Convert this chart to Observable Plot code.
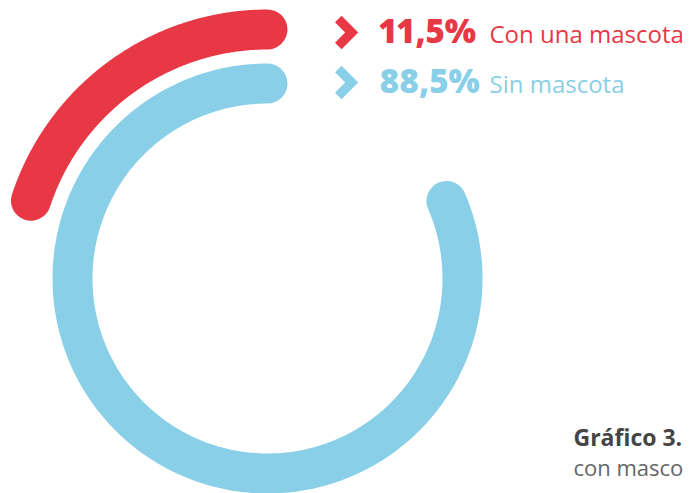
<!DOCTYPE html>
<html><head><meta charset="utf-8">
<script src="https://cdn.jsdelivr.net/npm/d3@7"></script>
<script src="https://cdn.jsdelivr.net/npm/@observablehq/plot@0.6"></script>
<style>body{margin:0;background:#fff;overflow:hidden}</style>
</head><body><div id="chart"></div>
<script>
// ---- data ----
const categories = ["Con una mascota", "Sin mascota"];
const values = [11.5, 88.5];
const valueLabels = ["11,5%", "88,5%"];
const captionTitle = ["Gráfico 3."];
const captionText = ["con masco"];

// ---- styles / layout ----
const colors = ["#e83845", "#89cfe8"];
const radii = [249, 195];          // ring radius for each category (outer → inner)
const rowBaseline = [236, 186];    // legend row baselines (same units as the rings)
// angular sweep (degrees, counter-clockwise from 12 o'clock) as drawn in the graphic
const sweep = d3.scaleLinear().domain([0, 100]).range([38.7, 326.5]);

const rows = categories.map((c, i) => ({category: c, value: values[i], label: valueLabels[i], r: radii[i], yb: rowBaseline[i]}));
const N = 240;
const arcPoints = rows.flatMap(d => d3.range(N + 1).map(k => {
  const a = sweep(d.value) * (k / N) * Math.PI / 180;
  return {category: d.category, x: -d.r * Math.sin(a), y: d.r * Math.cos(a)};
}));

// chevron ">" symbol (outline of a thick polyline with butt ends, mitred tip)
const chevron = {
  draw(ctx, size) {
    const s = Math.sqrt(size / Math.PI) / 16;
    const pts = [[-3.82, -16.18], [12.36, 0], [-3.82, 16.18], [-10.18, 9.82], [-0.36, 0], [-10.18, -9.82]];
    pts.forEach(([px, py], i) => i ? ctx.lineTo(px * s, py * s) : ctx.moveTo(px * s, py * s));
    ctx.closePath();
  }
};

const chart = Plot.plot({
  width: 689,
  height: 493,
  margin: 0,
  x: {domain: [-267, 422], axis: null},
  y: {domain: [-215, 278], axis: null},
  color: {domain: categories, range: colors},
  marks: [
    Plot.line(arcPoints, {x: "x", y: "y", z: "category", stroke: "category", strokeWidth: 40, strokeLinecap: "round", strokeLinejoin: "round"}),
    Plot.dot(rows, {x: () => 78, y: "yb", dy: -10, fill: "category", symbol: chevron, r: 16.5}),
    Plot.text(rows, {x: () => 112, y: "yb", text: "label", fill: "category", textAnchor: "start", lineAnchor: "bottom", fontFamily: "Open Sans", fontWeight: 800, fontSize: 33, letterSpacing: -2, fontVariant: "proportional-nums"}),
    Plot.text(rows, {x: () => 222, y: "yb", text: "category", fill: "category", textAnchor: "start", lineAnchor: "bottom", fontFamily: "Open Sans", fontSize: 24}),
    Plot.text(captionTitle, {x: () => 306, y: () => -167, text: d => d, fill: "#454545", textAnchor: "start", lineAnchor: "bottom", fontFamily: "Open Sans", fontWeight: 700, fontSize: 23}),
    Plot.text(captionText, {x: () => 306, y: () => -197, text: d => d, fill: "#666666", textAnchor: "start", lineAnchor: "bottom", fontFamily: "Open Sans", fontSize: 22})
  ]
});
document.getElementById("chart").appendChild(chart);
</script>
</body></html>
